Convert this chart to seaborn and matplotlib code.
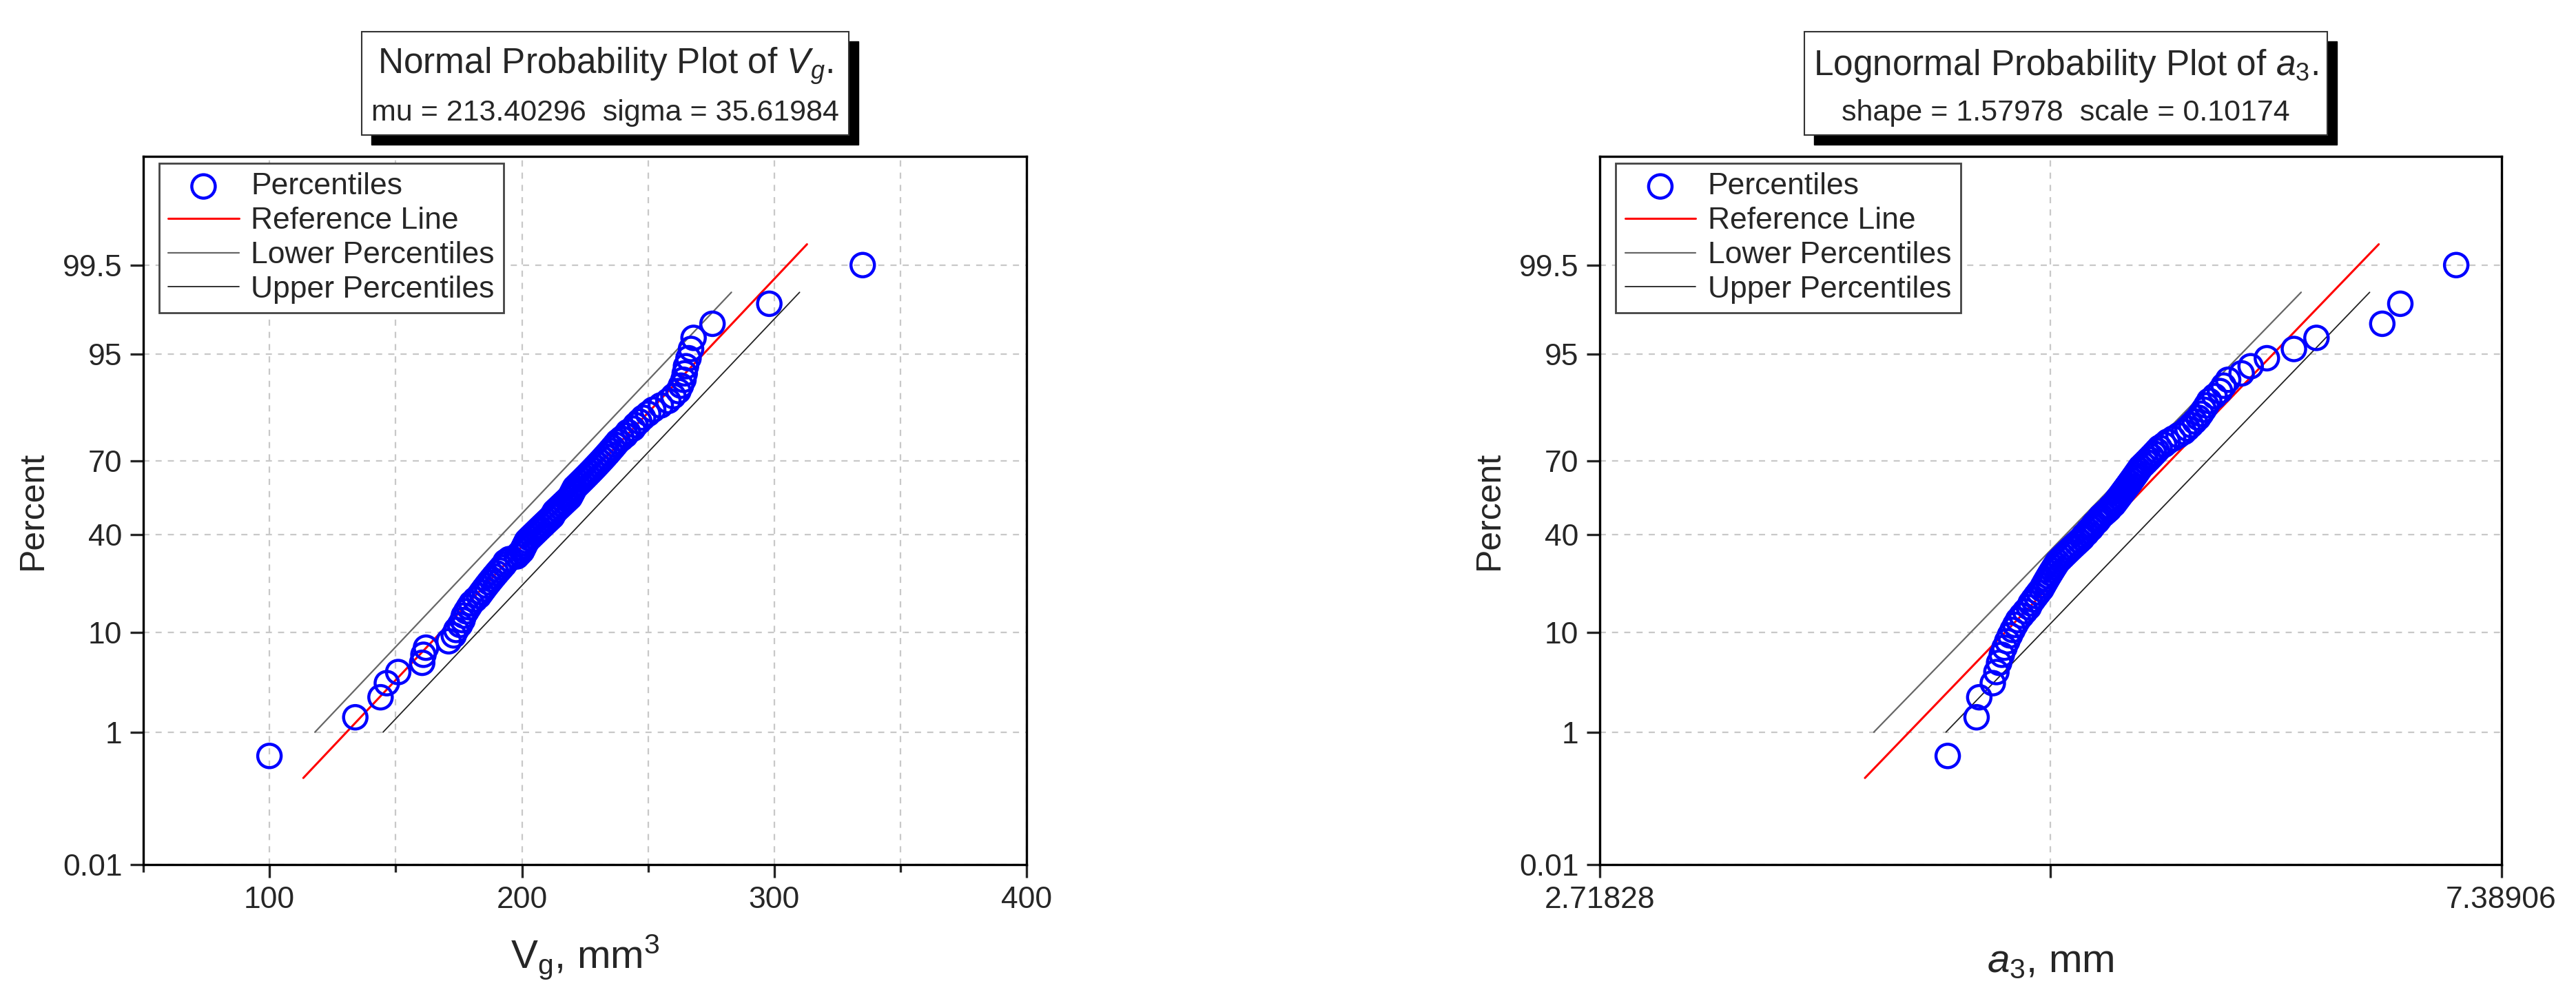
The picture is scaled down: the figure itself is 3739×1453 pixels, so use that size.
import numpy as np
import pandas as pd
import matplotlib
matplotlib.use("Agg")
import matplotlib.pyplot as plt
import matplotlib.patches as mpatches
import seaborn as sns
from statistics import NormalDist

# =========================================================
# Data
# =========================================================

pct_ticks = [0.01, 1, 10, 40, 70, 95, 99.5]
pct_labels = ["0.01", "1", "10", "40", "70", "95", "99.5"]

# Left: sorted V_g values (mm^3), n = 100
vg_values = [
    100, 134, 144, 146.5, 151, 160.5, 161, 162, 171, 173,
    174, 175.5, 176.5, 177, 178, 179, 180, 181.5, 183, 184,
    185, 186, 187, 188, 189, 190, 191, 192, 193, 193.5,
    195, 198, 199, 200, 200.5, 201, 201.5, 202, 203, 204,
    205, 206, 207, 208, 209, 210, 211, 212, 212.5, 213,
    214, 215, 216, 217, 218, 219, 219.5, 220, 220.5, 221,
    222, 223, 224, 225, 226, 227, 228, 229, 230, 231,
    232, 233, 234, 235, 236, 237, 238, 239.5, 241, 242,
    244, 245, 246.5, 248, 250, 252, 255, 258, 260, 262,
    263, 264, 264.5, 265, 266, 267, 268, 275.5, 298, 335,
]
vg_mu = 213.40296
vg_sigma = 35.61984
vg_lower = [118, 283]      # at 1 % and 98.9 %
vg_upper = [145, 310]

# Right: sorted ln(a_3) values, n = 100
a3_log = [
    1.386, 1.418, 1.421, 1.436, 1.440, 1.443, 1.446, 1.449, 1.452, 1.455,
    1.458, 1.461, 1.464, 1.468, 1.472, 1.476, 1.478, 1.481, 1.484, 1.487,
    1.490, 1.492, 1.494, 1.496, 1.498, 1.500, 1.502, 1.504, 1.506, 1.508,
    1.511, 1.514, 1.517, 1.520, 1.523, 1.526, 1.529, 1.532, 1.535, 1.537,
    1.540, 1.542, 1.545, 1.547, 1.549, 1.552, 1.554, 1.556, 1.559, 1.562,
    1.565, 1.567, 1.570, 1.572, 1.574, 1.576, 1.578, 1.580, 1.582, 1.584,
    1.586, 1.588, 1.590, 1.592, 1.594, 1.596, 1.598, 1.600, 1.603, 1.606,
    1.609, 1.612, 1.615, 1.618, 1.621, 1.626, 1.630, 1.636, 1.642, 1.648,
    1.652, 1.656, 1.660, 1.664, 1.667, 1.670, 1.673, 1.676, 1.682, 1.688,
    1.692, 1.697, 1.712, 1.722, 1.740, 1.770, 1.795, 1.868, 1.888, 1.950,
]
a3_shape = 1.57978
a3_scale = 0.10174
a3_lower_log = [1.304, 1.778]
a3_upper_log = [1.384, 1.854]

band_pct = [1, 98.9]
ref_pct = [0.25, 99.74]

nd = NormalDist()


def z_of(p):
    return [nd.inv_cdf(v / 100.0) for v in p]


sns.set_style("white")
plt.rcParams["font.family"] = ["Liberation Sans", "DejaVu Sans"]
plt.rcParams["mathtext.fontset"] = "custom"
plt.rcParams["mathtext.rm"] = "Liberation Sans"
plt.rcParams["mathtext.it"] = "Liberation Sans:italic"

fig = plt.figure(figsize=(37.39, 14.53), dpi=100)
ax1 = fig.add_axes([0.0556, 0.136, 0.343, 0.708])
ax2 = fig.add_axes([0.621, 0.136, 0.350, 0.708])


def prob_plot(ax, xs, ref_x, low_x, up_x):
    n = len(xs)
    pos = [(i + 0.5) / n * 100 for i in range(n)]
    df = pd.DataFrame({"x": xs, "z": z_of(pos)})
    zr = z_of(ref_pct)
    zb = z_of(band_pct)
    sns.lineplot(x=low_x, y=zb, ax=ax, color="#666666", lw=1.6, label="Lower Percentiles", zorder=2)
    sns.lineplot(x=up_x, y=zb, ax=ax, color="#222222", lw=1.3, label="Upper Percentiles", zorder=2)
    sns.lineplot(x=ref_x(zr), y=zr, ax=ax, color="red", lw=2.2, label="Reference Line", zorder=3)
    sns.scatterplot(data=df, x="x", y="z", ax=ax, s=600, facecolors="none",
                    edgecolor="#0000ff", linewidth=3.2, label="Percentiles", zorder=4)
    ax.set_ylim(nd.inv_cdf(0.0001), nd.inv_cdf(0.9999))
    ax.set_yticks(z_of(pct_ticks))
    ax.set_yticklabels(pct_labels)
    ax.grid(True, color="#c8c8c8", ls=(0, (4, 4)), lw=1.6)
    for s in ax.spines.values():
        s.set_color("black")
        s.set_linewidth(2.4)
    ax.tick_params(axis="both", direction="out", length=14, width=2.4, labelsize=32, pad=8,
                   left=True, bottom=True, top=False, right=False)
    ax.set_ylabel("Percent", fontsize=36, labelpad=14)
    h, l = ax.get_legend_handles_labels()
    order = [l.index(k) for k in ["Percentiles", "Reference Line", "Lower Percentiles", "Upper Percentiles"]]
    leg = ax.legend([h[i] for i in order], [l[i] for i in order], loc="upper left",
                    bbox_to_anchor=(0.018, 0.99), fontsize=32, fancybox=False,
                    edgecolor="#444444", framealpha=1, borderpad=0.3,
                    handlelength=2.3, handletextpad=0.4, labelspacing=0.2, borderaxespad=0)
    leg.get_frame().set_linewidth(2)


# Left panel
prob_plot(ax1, vg_values, lambda z: [vg_mu + vg_sigma * v for v in z], vg_lower, vg_upper)
ax1.set_xlim(50, 400)
ax1.set_xticks([100, 200, 300, 400])
ax1.set_xticks([50, 150, 250, 350], minor=True)
ax1.tick_params(axis="x", which="minor", direction="out", length=8, width=2.4, bottom=True)
ax1.grid(True, which="minor", axis="x", color="#c8c8c8", ls=(0, (4, 4)), lw=1.6)
ax1.set_xlabel("V$_\\mathregular{g}$, mm$^\\mathregular{3}$", fontsize=42, labelpad=20)

# Right panel
prob_plot(ax2, [np.exp(v) for v in a3_log],
          lambda z: [np.exp(a3_shape + a3_scale * v) for v in z],
          [np.exp(v) for v in a3_lower_log], [np.exp(v) for v in a3_upper_log])
ax2.set_xscale("log")
ax2.set_xlim(np.e, np.e ** 2)
ax2.set_xticks([np.e, np.e ** 1.5, np.e ** 2])
ax2.set_xticklabels(["2.71828", "", "7.38906"])
ax2.xaxis.set_minor_locator(matplotlib.ticker.NullLocator())
ax2.set_xlabel("$a_\\mathregular{3}$, mm", fontsize=42, labelpad=30)

# Title boxes with shadow
titles = [
    (0.1404, 0.3295, "Normal Probability Plot of $V_g$.", "mu = 213.40296  sigma = 35.61984"),
    (0.7005, 0.9035, "Lognormal Probability Plot of $a_3$.", "shape = 1.57978  scale = 0.10174"),
]
y0, y1 = 0.865, 0.968
for x0, x1, t, sub in titles:
    fig.patches.append(mpatches.Rectangle((x0 + 0.0037, y0 - 0.0096), x1 - x0, y1 - y0,
                                          transform=fig.transFigure, facecolor="black",
                                          edgecolor="black", zorder=1))
    fig.patches.append(mpatches.Rectangle((x0, y0), x1 - x0, y1 - y0,
                                          transform=fig.transFigure, facecolor="white",
                                          edgecolor="#333333", lw=1.5, zorder=2))
    fig.text((x0 + x1) / 2, 0.934, t, ha="center", va="center", fontsize=37, zorder=3)
    fig.text((x0 + x1) / 2, 0.887, sub, ha="center", va="center", fontsize=31, zorder=3)

fig.savefig("out.png", dpi=100)
